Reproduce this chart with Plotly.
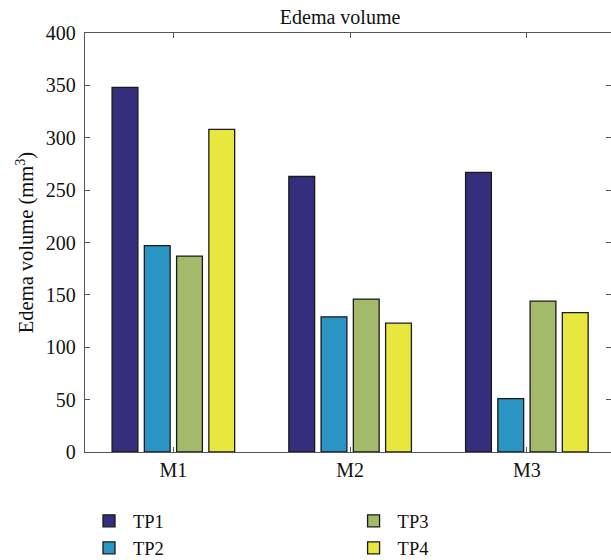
import plotly.graph_objects as go

categories = ["M1", "M2", "M3"]
series_names = ["TP1", "TP2", "TP3", "TP4"]
tp1 = [348, 263, 267]
tp2 = [197, 129, 51]
tp3 = [187, 146, 144]
tp4 = [308, 123, 133]
values = [tp1, tp2, tp3, tp4]
colors = ["#352E7D", "#2A95C4", "#A3BA6A", "#E8E73D"]
legend_ids = ["legend", "legend", "legend2", "legend2"]
y_ticks = [0, 50, 100, 150, 200, 250, 300, 350, 400]

FONT = "Liberation Serif"
W, H = 611, 560
ML, MR, MT, MB = 85, 0, 33, 108

fig = go.Figure()
for name, vals, col, lg in zip(series_names, values, colors, legend_ids):
    fig.add_trace(go.Bar(
        x=categories, y=vals, name=name, legend=lg,
        marker=dict(color=col, line=dict(color="#1a1a1a", width=1.3)),
    ))

# invisible trace to carry right-side tick marks
fig.add_trace(go.Scatter(x=categories, y=[0, 0, 0], yaxis="y2", mode="markers",
                         marker=dict(opacity=0), showlegend=False, hoverinfo="skip"))

axis_col = "#555555"
fig.update_layout(
    width=W, height=H,
    margin=dict(l=ML, r=MR, t=MT, b=MB, autoexpand=False),
    paper_bgcolor="white", plot_bgcolor="white",
    font=dict(family=FONT, size=20, color="#111111"),
    barmode="group", bargap=0.27, bargroupgap=0.2,
    title=dict(text="Edema volume", x=0.485, xref="paper", xanchor="center",
               y=1 - 17 / 560, yref="container", yanchor="middle",
               font=dict(family=FONT, size=20, color="#111111")),
    xaxis=dict(
        type="category", range=[-0.5, 2.476],
        showline=True, linecolor=axis_col, linewidth=1.3, mirror="ticks",
        ticks="inside", ticklen=5, tickcolor=axis_col,
        showgrid=False, zeroline=False,
        tickfont=dict(family=FONT, size=20),
    ),
    yaxis=dict(
        range=[0, 400], tickvals=y_ticks,
        showline=True, linecolor=axis_col, linewidth=1.3,
        ticks="inside", ticklen=5, tickcolor=axis_col,
        showgrid=False, zeroline=False, ticklabelstandoff=4,
        tickfont=dict(family=FONT, size=20),
        title=dict(text="Edema volume (mm<sup>3</sup>)", standoff=6,
                   font=dict(family=FONT, size=20.5)),
    ),
    yaxis2=dict(
        overlaying="y", side="right", range=[0, 400], tickvals=y_ticks,
        showline=False, ticks="inside", ticklen=5, tickcolor=axis_col,
        showticklabels=False, showgrid=False, zeroline=False,
    ),
    legend=dict(x=0.0, y=-0.12, xanchor="left", yanchor="top",
                orientation="v", tracegroupgap=0, itemwidth=38,
                font=dict(family=FONT, size=18.5), bgcolor="rgba(0,0,0,0)"),
    legend2=dict(x=0.503, y=-0.12, xanchor="left", yanchor="top",
                 orientation="v", tracegroupgap=0, itemwidth=38,
                 font=dict(family=FONT, size=18.5), bgcolor="rgba(0,0,0,0)"),
)

fig.write_html("out.html")
